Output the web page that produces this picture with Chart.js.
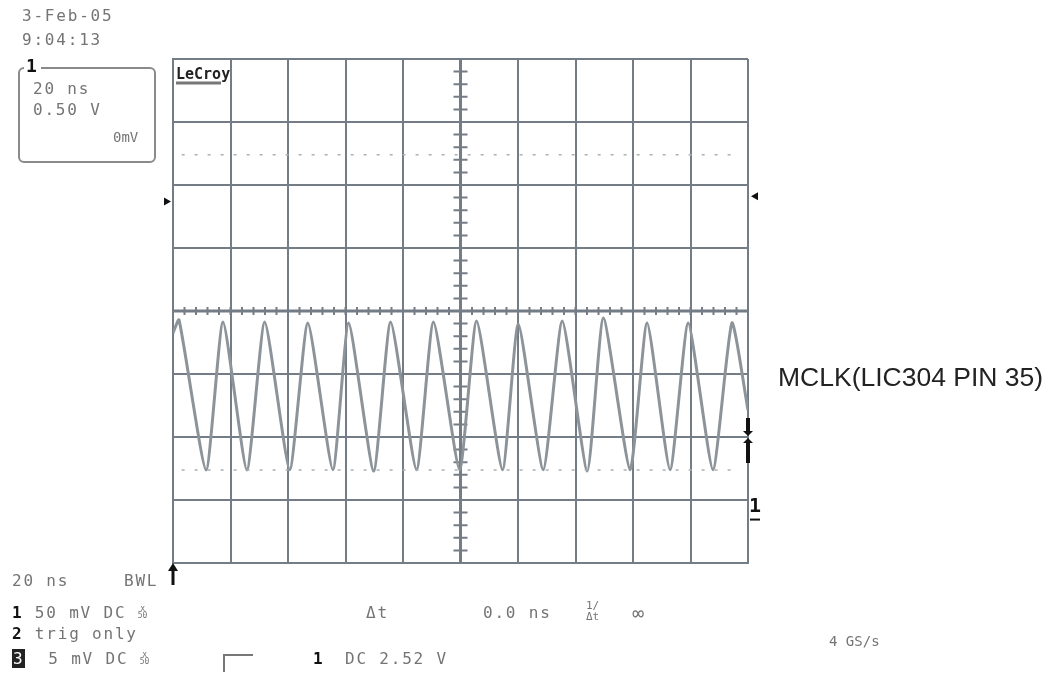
<!DOCTYPE html>
<html>
<head>
<meta charset="utf-8">
<script src="https://cdn.jsdelivr.net/npm/chart.js@4.4.1/dist/chart.umd.min.js"></script>
<style>
    body { margin: 0; background: #fff; }
    #wrap { position: relative; width: 1054px; height: 674px; overflow: hidden; }
    #scope { position: absolute; left: 0; top: 0; }
    .t { position: absolute; font-family: 'DejaVu Sans Mono', monospace; font-size: 16px; color: #747474;
         letter-spacing: 1.8px; white-space: pre; line-height: 1; }
    .b { color: #111; font-weight: bold; }
    .inv { background: #222; color: #fff; padding: 0 1px; }
    .cpl { display: inline-block; font-size: 8px; line-height: 7px; letter-spacing: 0; vertical-align: top; text-align: center; }
    #box { position: absolute; left: 18px; top: 67px; width: 134px; height: 92px; border: 2px solid #8a8a8a; border-radius: 6px; }
    #step { position: absolute; left: 223px; top: 654px; width: 28px; height: 16px; border-left: 2px solid #777; border-top: 2px solid #777; }
    #label { position: absolute; left: 778px; top: 362px; font-family: 'Liberation Sans', Arial, sans-serif;
             font-size: 26.5px; color: #222; white-space: pre; }
</style>
</head>
<body>
<div id="wrap">
    <canvas id="scope" width="1054" height="674"></canvas>

    <div class="t" style="left:22px;top:8px;">3-Feb-05</div>
    <div class="t" style="left:22px;top:32px;">9:04:13</div>
    <div id="box"></div>
    <div class="t b" style="left:24px;top:57px;background:#fff;padding:0 2px;font-size:18px;">1</div>
    <div class="t" style="left:33px;top:81px;">20 ns</div>
    <div class="t" style="left:33px;top:102px;">0.50 V</div>
    <div class="t" style="left:113px;top:130px;font-size:14px;letter-spacing:0;">0mV</div>

    <div class="t" style="left:12px;top:573px;">20 ns</div>
    <div class="t" style="left:124px;top:573px;">BWL</div>

    <div class="t" style="left:12px;top:605px;"><span class="b">1</span> 50 mV DC <span class="cpl">x<br>50</span></div>
    <div class="t" style="left:366px;top:605px;">Δt</div>
    <div class="t" style="left:483px;top:605px;">0.0 ns</div>
    <div class="t" style="left:586px;top:600px;font-size:11px;letter-spacing:0;">1/<br>Δt</div>
    <div class="t" style="left:632px;top:603px;font-size:20px;">∞</div>

    <div class="t" style="left:12px;top:626px;"><span class="b">2</span> trig only</div>
    <div class="t" style="left:829px;top:634px;font-size:14px;letter-spacing:0;">4 GS/s</div>

    <div class="t" style="left:12px;top:651px;"><span class="inv">3</span>  5 mV DC <span class="cpl">x<br>50</span></div>
    <div id="step"></div>
    <div class="t b" style="left:313px;top:651px;">1</div>
    <div class="t" style="left:345px;top:651px;">DC 2.52 V</div>

    <div id="label">MCLK(LIC304 PIN 35)</div>
</div>

<script>
// channel 1 trace (time in ns, level in V at 0.5 V/div)
const timeNs = [-100, -97.9, -88.5, -82.6, -74.3, -68.1, -59.4, -53.1, -44.4, -38.9, -30.2, -24.3, -15.3, -9.4, -0.3,
    5.6, 14.6, 20.1, 28.8, 35.4, 44.1, 49.7, 59.0, 64.9, 72.9, 79.2, 87.8, 94.4, 100];
const volts = [-0.175, -0.071, -1.262, -0.087, -1.262, -0.087, -1.26, -0.095, -1.26, -0.095, -1.27, -0.087, -1.26, -0.087, -1.26,
    -0.079, -1.26, -0.103, -1.26, -0.079, -1.27, -0.056, -1.26, -0.095, -1.26, -0.095, -1.26, -0.095, -0.786];

// dotted cursor levels
const cursorLevels = [1.24, -1.262];
const cursorSpan = [-97, 97];

// screen markers (V)
const offsetMarkerLeft = 0.87;
const offsetMarkerRight = 0.91;
const triggerLevel = -1.0;
const groundLevel = -1.56;

const xRange = [-100, 100];
const yRange = [-2, 2];
const xDiv = 20;
const yDiv = 0.5;

const gridColor = '#747d86';

const traceData = timeNs.map((t, i) => ({ x: t, y: volts[i] }));

const cursorSets = cursorLevels.map(v => ({
    data: cursorSpan.map(t => ({ x: t, y: v })),
    borderColor: '#aab1b7',
    borderWidth: 1.5,
    borderDash: [3, 10],
    pointRadius: 0,
    showLine: true
}));

const overlay = {
    id: 'overlay',
    beforeDatasetsDraw(chart) {
        const ctx = chart.ctx;
        const xs = chart.scales.x, ys = chart.scales.y;
        const x0 = xs.getPixelForValue(0), y0 = ys.getPixelForValue(0);
        ctx.save();
        ctx.strokeStyle = gridColor;
        // thicker centre axes
        ctx.lineWidth = 3;
        ctx.beginPath();
        ctx.moveTo(x0, ys.top); ctx.lineTo(x0, ys.bottom);
        ctx.moveTo(xs.left, y0); ctx.lineTo(xs.right, y0);
        ctx.stroke();
        // minor ticks, 5 per division
        ctx.lineWidth = 2;
        ctx.beginPath();
        for (let v = yRange[0]; v <= yRange[1] + 1e-9; v += yDiv / 5) {
            const py = ys.getPixelForValue(v);
            ctx.moveTo(x0 - 7, py); ctx.lineTo(x0 + 7, py);
        }
        for (let t = xRange[0]; t <= xRange[1] + 1e-9; t += xDiv / 5) {
            const px = xs.getPixelForValue(t);
            ctx.moveTo(px, y0 - 4); ctx.lineTo(px, y0 + 4);
        }
        ctx.stroke();
        ctx.restore();
    },
    afterDraw(chart) {
        const ctx = chart.ctx;
        const xs = chart.scales.x, ys = chart.scales.y;
        ctx.save();
        ctx.fillStyle = '#111';
        ctx.strokeStyle = '#111';
        // offset markers
        let py = ys.getPixelForValue(offsetMarkerLeft);
        ctx.beginPath();
        ctx.moveTo(xs.left - 9, py - 4); ctx.lineTo(xs.left - 2, py); ctx.lineTo(xs.left - 9, py + 4);
        ctx.fill();
        py = ys.getPixelForValue(offsetMarkerRight);
        ctx.beginPath();
        ctx.moveTo(xs.right + 10, py - 4); ctx.lineTo(xs.right + 3, py); ctx.lineTo(xs.right + 10, py + 4);
        ctx.fill();
        // trigger level marker
        py = ys.getPixelForValue(triggerLevel);
        ctx.lineWidth = 4;
        ctx.beginPath();
        ctx.moveTo(xs.right, py - 19); ctx.lineTo(xs.right, py - 4);
        ctx.moveTo(xs.right, py + 4); ctx.lineTo(xs.right, py + 26);
        ctx.stroke();
        ctx.beginPath();
        ctx.moveTo(xs.right - 5, py - 6); ctx.lineTo(xs.right + 5, py - 6); ctx.lineTo(xs.right, py - 1);
        ctx.moveTo(xs.right - 5, py + 6); ctx.lineTo(xs.right + 5, py + 6); ctx.lineTo(xs.right, py + 1);
        ctx.fill();
        // ground marker "1"
        py = ys.getPixelForValue(groundLevel);
        ctx.font = 'bold 20px "DejaVu Sans Mono"';
        ctx.textBaseline = 'middle';
        ctx.fillText('1', xs.right + 1, py - 1);
        ctx.lineWidth = 2;
        ctx.beginPath();
        ctx.moveTo(xs.right + 2, py + 12); ctx.lineTo(xs.right + 12, py + 12);
        ctx.stroke();
        // trigger delay arrow at bottom left
        const bx = xs.left, by = ys.bottom;
        ctx.lineWidth = 3;
        ctx.beginPath();
        ctx.moveTo(bx, by + 4); ctx.lineTo(bx, by + 22);
        ctx.stroke();
        ctx.beginPath();
        ctx.moveTo(bx - 5, by + 8); ctx.lineTo(bx + 5, by + 8); ctx.lineTo(bx, by);
        ctx.fill();
        // LeCroy tag
        ctx.font = 'bold 15px "DejaVu Sans Mono"';
        ctx.textBaseline = 'alphabetic';
        ctx.fillStyle = '#222';
        ctx.fillText('LeCroy', xs.left + 3, ys.top + 20);
        ctx.strokeStyle = '#777';
        ctx.beginPath();
        ctx.moveTo(xs.left + 3, ys.top + 24); ctx.lineTo(xs.left + 48, ys.top + 24);
        ctx.stroke();
        ctx.restore();
    }
};

new Chart(document.getElementById('scope'), {
    type: 'scatter',
    data: {
        datasets: [
            ...cursorSets,
            {
                data: traceData,
                borderColor: '#8c9399',
                borderWidth: 3,
                pointRadius: 0,
                showLine: true,
                tension: 0.18
            }
        ]
    },
    options: {
        responsive: false,
        animation: false,
        layout: { padding: { left: 173, top: 59, right: 306, bottom: 111 } },
        plugins: { legend: { display: false }, tooltip: { enabled: false } },
        scales: {
            x: {
                type: 'linear', min: xRange[0], max: xRange[1],
                ticks: { display: false, stepSize: xDiv },
                grid: { color: gridColor, lineWidth: 2, drawTicks: false },
                border: { color: gridColor, width: 2 }
            },
            y: {
                type: 'linear', min: yRange[0], max: yRange[1],
                ticks: { display: false, stepSize: yDiv },
                grid: { color: gridColor, lineWidth: 2, drawTicks: false },
                border: { color: gridColor, width: 2 }
            }
        }
    },
    plugins: [overlay]
});
</script>
</body>
</html>
